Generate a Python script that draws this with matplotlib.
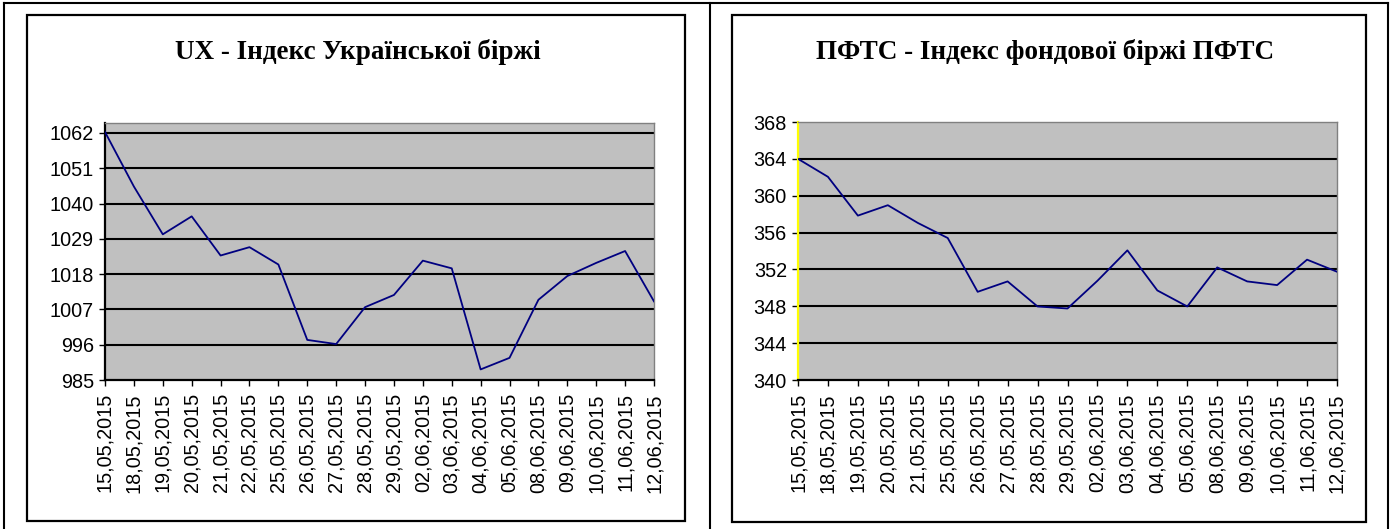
import matplotlib
matplotlib.use("Agg")
import matplotlib.pyplot as plt
from matplotlib.lines import Line2D
from matplotlib.patches import Rectangle

# ---------------- data ----------------
ux_dates = ["15,05,2015", "18,05,2015", "19,05,2015", "20,05,2015", "21,05,2015",
            "22,05,2015", "25,05,2015", "26,05,2015", "27,05,2015", "28,05,2015",
            "29,05,2015", "02,06,2015", "03,06,2015", "04,06,2015", "05,06,2015",
            "08,06,2015", "09,06,2015", "10,06,2015", "11,06,2015", "12,06,2015"]
ux_values = [1062.3, 1045.3, 1030.4, 1036.0, 1023.8, 1026.4, 1021.0, 997.5, 996.2, 1007.7,
             1011.5, 1022.2, 1019.8, 988.3, 991.9, 1010.0, 1017.4, 1021.5, 1025.2, 1009.5]
ux_ticks = [985, 996, 1007, 1018, 1029, 1040, 1051, 1062]
ux_title = "UX - Індекс Української біржі"

pfts_dates = ["15,05,2015", "18,05,2015", "19,05,2015", "20,05,2015", "21,05,2015",
              "25,05,2015", "26,05,2015", "27,05,2015", "28,05,2015", "29,05,2015",
              "02,06,2015", "03,06,2015", "04,06,2015", "05,06,2015", "08,06,2015",
              "09,06,2015", "10,06,2015", "11,06,2015", "12,06,2015"]
pfts_values = [364.0, 362.05, 357.84, 358.97, 357.05, 355.41, 349.57, 350.70, 347.98, 347.76,
               350.77, 354.07, 349.72, 347.98, 352.22, 350.70, 350.30, 353.06, 351.75]
pfts_ticks = [340, 344, 348, 352, 356, 360, 364, 368]
pfts_title = "ПФТС - Індекс фондової біржі ПФТС"

# ---------------- layout ----------------
W, H = 1398, 529
DPI = 100
fig = plt.figure(figsize=(W / DPI, H / DPI), dpi=DPI)
fig.patch.set_facecolor("white")

SANS = ["Liberation Sans", "DejaVu Sans"]
SERIF = ["Liberation Serif", "DejaVu Serif"]


def rect(x0, y0, x1, y1):
    return [x0 / W, 1 - y1 / H, (x1 - x0) / W, (y1 - y0) / H]


def fline(xs, ys, lw=1.5, color="black"):
    fig.add_artist(Line2D([x / W for x in xs], [1 - y / H for y in ys],
                          transform=fig.transFigure, color=color, lw=lw,
                          solid_capstyle="projecting"))


# outer table lines
fline([4, 1388], [3, 3])
fline([4, 4], [3, 529])
fline([710, 710], [3, 529])
fline([1388, 1388], [3, 529])

# chart frames
for (x0, y0, x1, y1) in [(27, 15, 685, 521), (732, 15, 1366, 522)]:
    fig.add_artist(Rectangle((x0 / W, 1 - y1 / H), (x1 - x0) / W, (y1 - y0) / H,
                             transform=fig.transFigure, fill=False,
                             edgecolor="black", lw=1.6))


def make_chart(box, labels, values, ticks, ymax, title, title_xy, left_color):
    ax = fig.add_axes(rect(*box))
    ax.set_facecolor("#C0C0C0")
    n = len(values)
    xs = list(range(n))
    ax.set_xlim(0, n - 1)
    ax.set_ylim(ticks[0], ymax)
    for t in ticks[1:]:
        if t < ymax:
            ax.axhline(t, color="black", lw=1.5, zorder=1)
    ax.plot(xs, values, color="#000080", lw=1.3, zorder=3)
    ax.set_yticks(ticks)
    ax.set_yticklabels([str(t) for t in ticks], fontfamily=SANS, fontsize=14.3)
    ax.set_xticks(xs)
    ax.set_xticklabels(labels, rotation=90, fontfamily=SANS, fontsize=14.3,
                       va="top", ha="center")
    ax.tick_params(axis="y", direction="out", length=4.5, width=1, pad=3.5, colors="black")
    ax.tick_params(axis="x", direction="out", length=4.5, width=1, pad=5, colors="black")
    ax.spines["left"].set_color(left_color)
    ax.spines["left"].set_linewidth(1.6)
    ax.spines["bottom"].set_color("black")
    ax.spines["bottom"].set_linewidth(1.6)
    for s in ("top", "right"):
        ax.spines[s].set_color("#808080")
        ax.spines[s].set_linewidth(1.0)
    fig.text(title_xy[0] / W, 1 - title_xy[1] / H, title, ha="center", va="center",
             fontfamily=SERIF, fontweight="bold", fontsize=19.5)
    return ax


make_chart((105, 123, 654, 380), ux_dates, ux_values, ux_ticks, 1065.1,
           ux_title, (358, 52), "black")
make_chart((798, 122, 1337, 380), pfts_dates, pfts_values, pfts_ticks, 368,
           pfts_title, (1045, 52), "#FFFF00")

fig.savefig("out.png", dpi=DPI, facecolor="white")
